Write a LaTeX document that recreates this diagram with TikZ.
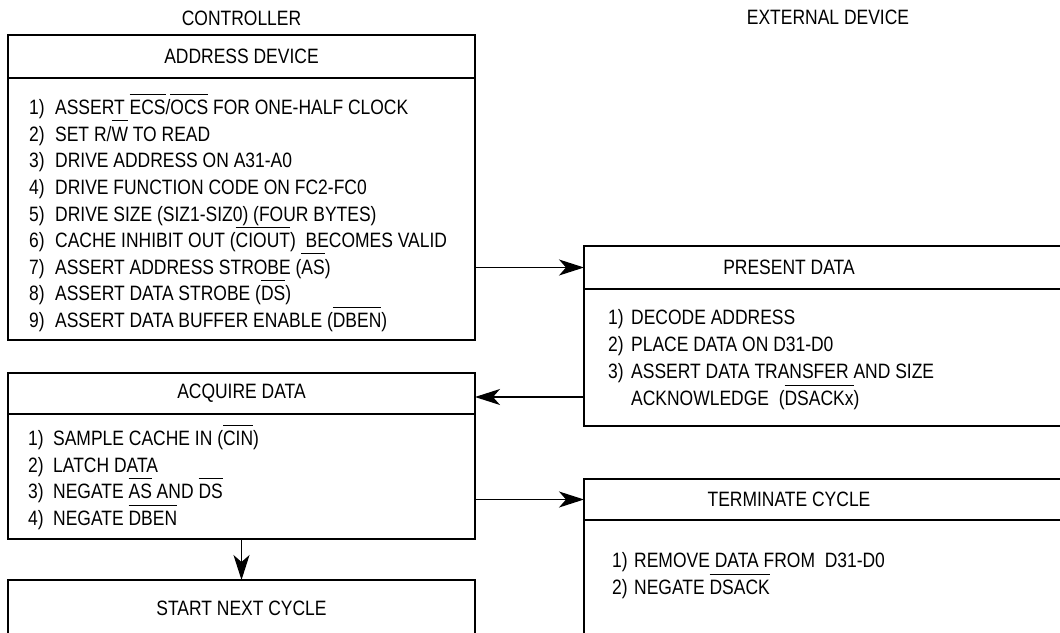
\documentclass[tikz,border=0pt]{standalone}
\usepackage{fontspec}
\setmainfont[FakeStretch=0.84]{Liberation Sans}
\usepackage{tikz}
\usetikzlibrary{positioning, arrows.meta}
\newcommand{\nsig}[1]{\vbox{\hrule height 1pt\kern 5.5pt\hbox{#1}}}
\newcommand{\stp}[2][26pt]{\makebox[#1][l]{#2)}}
\newcommand{\fst}{\rule{0pt}{23pt}}

\begin{document}
\begin{tikzpicture}[x=1pt, y=-1pt, box/.style={draw, line width=2.5pt, anchor=north west, inner sep=0pt, outer sep=0pt}, hdr/.style={font=\fontsize{20.8}{26.6}\selectfont, inner sep=0pt}, body/.style={anchor=north west, align=left, inner sep=0pt, font=\fontsize{20.8}{26.6}\selectfont}, div/.style={line width=1.2pt}, arr/.style={-{Stealth[length=25pt, width=16pt, inset=7pt]}, line width=1.3pt}]
\useasboundingbox (0,0) rectangle (1060,632);
\clip (0,0) rectangle (1060,632);
\node[box, minimum width=467pt, minimum height=305pt] (ad) at (8,35) {};
\node[box, minimum width=467pt, minimum height=166pt] (aq) at (8,373) {};
\node[box, minimum width=467pt, minimum height=120pt] (nx) at (8,580) {};
\node[box, minimum width=520pt, minimum height=180pt] (pd) at (584,246) {};
\node[box, minimum width=520pt, minimum height=200pt] (tm) at (584,479) {};
\draw[div] ([yshift=-43pt]ad.north west) -- ([yshift=-43pt]ad.north east);
\draw[div] ([yshift=-41pt]aq.north west) -- ([yshift=-41pt]aq.north east);
\draw[div] ([yshift=-43pt]pd.north west) -- ([yshift=-43pt]pd.north east);
\draw[div] ([yshift=-41pt]tm.north west) -- ([yshift=-41pt]tm.north east);
\node[hdr, above=8.6pt of ad] (ctl) {CONTROLLER};
\node[hdr] (ext) at (828,17) {EXTERNAL DEVICE};
\node[hdr] (adHdr) at (241.5,56.5) {ADDRESS DEVICE};
\node[hdr] (aqHdr) at (241.5,393.5) {ACQUIRE DATA};
\node[hdr] (nxHdr) at (241.5,608) {START NEXT CYCLE};
\node[hdr] (pdHdr) at (789,267.5) {PRESENT DATA};
\node[hdr] (tmHdr) at (789,499.5) {TERMINATE CYCLE};
\node[body] (adBody) at (29,91.5) {\fst\stp{1}ASSERT \nsig{ECS}/\nsig{OCS} FOR ONE-HALF CLOCK\\\stp{2}SET R/\nsig{W} TO READ\\\stp{3}DRIVE ADDRESS ON A31-A0\\\stp{4}DRIVE FUNCTION CODE ON FC2-FC0\\\stp{5}DRIVE SIZE (SIZ1-SIZ0) (FOUR BYTES)\\\stp{6}CACHE INHIBIT OUT (\nsig{CIOUT})\ \ BECOMES VALID\\\stp{7}ASSERT ADDRESS STROBE (\nsig{AS})\\\stp{8}ASSERT DATA STROBE (\nsig{DS})\\\stp{9}ASSERT DATA BUFFER ENABLE (\nsig{DBEN})};
\node[body] (aqBody) at (28,422.5) {\fst\stp[25pt]{1}SAMPLE CACHE IN (\nsig{CIN})\\\stp[25pt]{2}LATCH DATA\\\stp[25pt]{3}NEGATE \nsig{AS} AND \nsig{DS}\\\stp[25pt]{4}NEGATE \nsig{DBEN}};
\node[body, font=\fontsize{20.8}{27}\selectfont] (pdBody) at (608,301.5) {\fst\stp[23pt]{1}DECODE ADDRESS\\\stp[23pt]{2}PLACE DATA ON D31-D0\\\stp[23pt]{3}ASSERT DATA TRANSFER AND SIZE\\\hspace*{23pt}ACKNOWLEDGE\ \ (\nsig{DSACKx})};
\node[body, font=\fontsize{20.8}{27}\selectfont] (tmBody) at (612,544.5) {\fst\stp[22pt]{1}REMOVE DATA FROM\ \ D31-D0\\\stp[22pt]{2}NEGATE \nsig{DSACK}};
\draw[arr] (ad.east |- pdHdr) -- (pd.west |- pdHdr);
\draw[arr] ([yshift=-3.5pt]pd.west |- aqHdr) -- ([yshift=-3.5pt]aq.east |- aqHdr);
\draw[arr] (aq.east |- tmHdr) -- (tm.west |- tmHdr);
\draw[arr] (aq.south) -- (nx.north);
\end{tikzpicture}
\end{document}
